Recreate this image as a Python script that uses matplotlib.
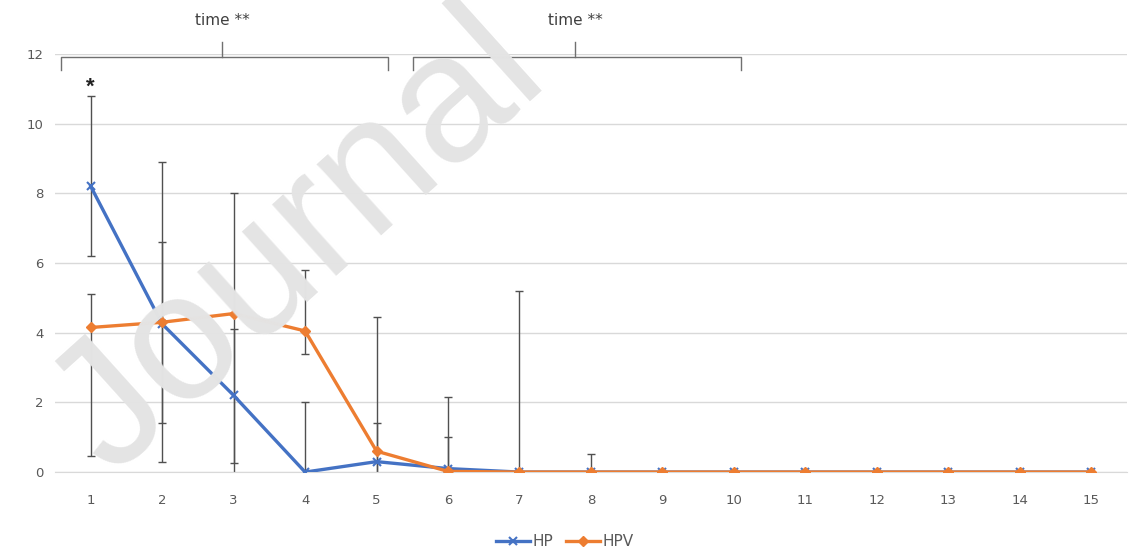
import numpy as np
import matplotlib.pyplot as plt

# Data
days = list(range(1, 16))
hp = [8.2, 4.25, 2.2, 0, 0.3, 0.1, 0, 0, 0, 0, 0, 0, 0, 0, 0]
hpv = [4.15, 4.3, 4.55, 4.05, 0.6, 0.02, 0, 0, 0, 0, 0, 0, 0, 0, 0]
hp_err_up = [2.6, 4.65, 1.9, 2.0, 1.1, 0.9, 0, 0.52, 0, 0, 0, 0, 0, 0, 0]
hp_err_dn = [2.0, 2.85, 2.5, 2.0, 1.1, 0.9, 0, 0.52, 0, 0, 0, 0, 0, 0, 0]
hpv_err_up = [0.95, 2.3, 3.45, 1.75, 3.85, 2.13, 5.2, 0, 0, 0, 0, 0, 0, 0, 0]
hpv_err_dn = [3.7, 4.0, 4.29, 0.65, 3.85, 2.13, 5.2, 0, 0, 0, 0, 0, 0, 0, 0]

brackets = [(0.58, 5.16, 2.84), (5.51, 10.1, 7.78)]
bracket_label = "time **"

blue = "#4472C4"
orange = "#ED7D31"
grey_txt = "#595959"

fig = plt.figure(figsize=(11.3, 5.6), dpi=100)
ax = fig.add_axes([0.0487, 0.157, 0.9485, 0.7466])

# watermark
fig.text(0.265, 0.565, "Journal", fontsize=130, color="#e4e4e4", rotation=42,
         ha="center", va="center", family="Liberation Sans", zorder=0)
ax.patch.set_alpha(0)

x = np.array(days)
for vals, up, dn in [(hp, hp_err_up, hp_err_dn), (hpv, hpv_err_up, hpv_err_dn)]:
    v = np.array(vals); u = np.array(up); d = np.array(dn)
    m = u > 0
    ax.errorbar(x[m], v[m], yerr=[d[m], u[m]], fmt="none", ecolor="#505050",
                elinewidth=1, capsize=3, capthick=1, zorder=2)

ax.plot(x, hp, color=blue, lw=2.4, marker="x", ms=6, mew=1.5, label="HP", zorder=3)
ax.plot(x, hpv, color=orange, lw=2.4, marker="D", ms=5, label="HPV", zorder=4)

ax.set_xlim(0.5, 15.5)
ax.set_ylim(0, 12)
ax.set_yticks(range(0, 13, 2))
ax.set_xticks(days)
ax.grid(axis="y", color="#d9d9d9", lw=1)
ax.set_axisbelow(True)
for s in ["top", "right", "left"]:
    ax.spines[s].set_visible(False)
ax.spines["bottom"].set_color("#d9d9d9")
ax.tick_params(axis="both", length=0, colors=grey_txt, labelsize=9.5)
ax.tick_params(axis="x", pad=16)
ax.tick_params(axis="y", pad=8)

# significance brackets
for x0, x1, xm in brackets:
    ax.plot([x0, x0, x1, x1], [11.53, 11.9, 11.9, 11.53], color="#707070",
            lw=1, clip_on=False)
    ax.plot([xm, xm], [11.9, 12.34], color="#707070", lw=1, clip_on=False)
    ax.text(xm, 12.95, bracket_label, ha="center", va="center", fontsize=11,
            color="#404040", clip_on=False)

ax.text(1, 11.05, "*", ha="center", va="center", fontsize=16, fontweight="bold",
        color="#222222", family="Liberation Sans")

fig.legend(loc="lower center", ncol=2, frameon=False, bbox_to_anchor=(0.5, -0.005),
           fontsize=11, labelcolor=grey_txt, handlelength=2.2, columnspacing=0.8,
           handletextpad=0.2)

fig.savefig("out.png", dpi=100)
